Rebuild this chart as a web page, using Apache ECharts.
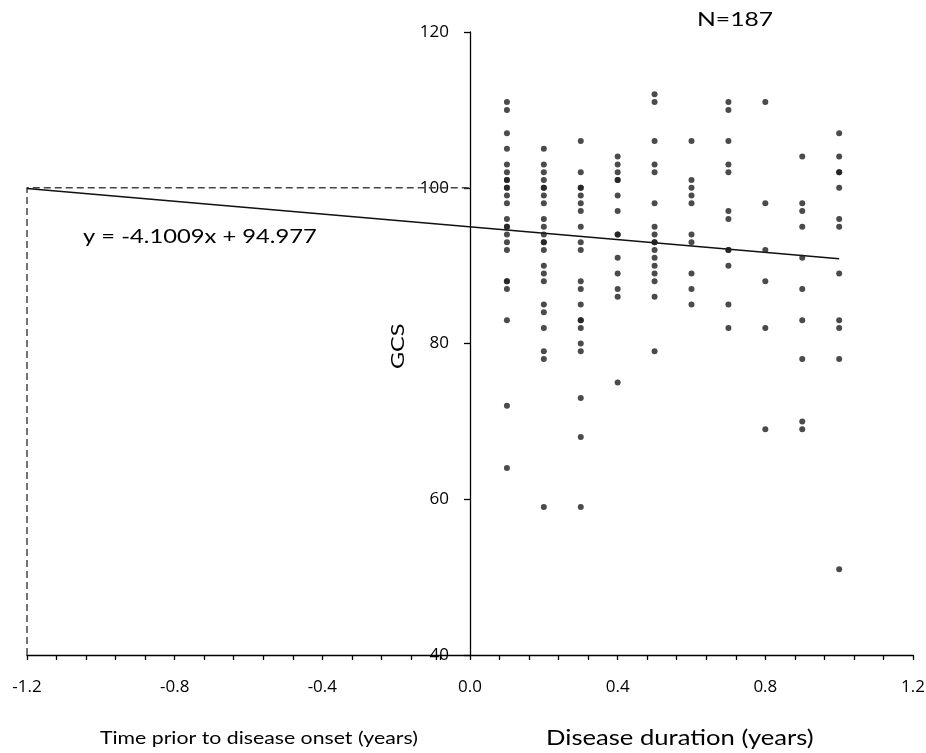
<!DOCTYPE html>
<html>
<head>
<meta charset="utf-8">
<script src="https://cdn.jsdelivr.net/npm/echarts@6/dist/echarts.min.js"></script>
<style>
html,body{margin:0;padding:0;background:#fff;}
#chart{width:926px;height:753px;}
</style>
</head>
<body>
<div id="chart"></div>
<script>
// Data
var durations = [0.1, 0.2, 0.3, 0.4, 0.5, 0.6, 0.7, 0.8, 0.9, 1.0];
var gcsByDuration = [
  [111, 110, 107, 105, 103, 102, 101, 101, 100, 100, 99, 98, 96, 95, 95, 94, 93, 92, 88, 88, 87, 83, 72, 64],
  [105, 103, 102, 101, 100, 100, 99, 98, 96, 95, 94, 93, 93, 92, 90, 89, 88, 85, 84, 82, 79, 78, 59],
  [106, 102, 100, 100, 99, 98, 97, 95, 93, 92, 88, 87, 85, 83, 83, 82, 80, 79, 73, 68, 59],
  [104, 103, 102, 101, 101, 99, 97, 94, 94, 91, 89, 87, 86, 75],
  [112, 111, 106, 103, 102, 98, 95, 94, 93, 93, 92, 91, 90, 89, 88, 86, 79],
  [106, 101, 100, 99, 98, 94, 93, 89, 87, 85],
  [111, 110, 106, 103, 102, 97, 96, 92, 92, 90, 85, 82],
  [111, 98, 92, 88, 82, 69],
  [104, 98, 97, 95, 91, 87, 83, 78, 70, 69],
  [107, 104, 102, 102, 100, 96, 95, 89, 83, 82, 78, 51]
];
var slope = -4.1009;
var intercept = 94.977;
var trendRange = [-1.2, 1.0];
var projection = [[-1.2, 40], [-1.2, 100], [0, 100]];
var xTickLabels = ['-1.2', '-0.8', '-0.4', '0.0', '0.4', '0.8', '1.2'];
var yTickLabels = ['40', '60', '80', '100', '120'];

var points = [];
durations.forEach(function (d, i) {
  gcsByDuration[i].forEach(function (v) { points.push([d, v]); });
});
var trend = trendRange.map(function (x) { return [x, slope * x + intercept]; });

var chart = echarts.init(document.getElementById('chart'));
var font = 'Lato, "Open Sans", sans-serif';
var tickFont = '"Open Sans", Lato, sans-serif';
var gridLeft = 27, gridRight = 13;
var plotW = 926 - gridLeft - gridRight;
var yOffset = -plotW * (0 - (-1.2)) / 2.4; // place y axis at x = 0
chart.setOption({
  animation: false,
  backgroundColor: '#fff',
  grid: { left: gridLeft, right: gridRight, top: 32, bottom: 98, containLabel: false, outerBoundsMode: 'none' },
  xAxis: {
    type: 'value', min: -1.2, max: 1.2, interval: 0.4,
    splitLine: { show: false },
    axisLine: { onZero: false, lineStyle: { color: '#000', width: 1.3 } },
    axisTick: { show: true, inside: false, length: 5, lineStyle: { color: '#000', width: 1.3 } },
    minorTick: { show: true, splitNumber: 5, length: 5, lineStyle: { color: '#000', width: 1.3 } },
    axisLabel: {
      margin: 24, fontSize: 17, color: '#000', fontFamily: tickFont,
      formatter: function (v) {
        var s = v.toFixed(1);
        return xTickLabels.indexOf(s) >= 0 ? s : '';
      }
    }
  },
  yAxis: {
    type: 'value', min: 40, max: 120, interval: 20, position: 'left', offset: yOffset,
    splitLine: { show: false },
    axisLine: { onZero: false, lineStyle: { color: '#000', width: 1.3 } },
    axisTick: { show: true, inside: false, length: 6, lineStyle: { color: '#000', width: 1.3 } },
    axisLabel: {
      margin: 21, fontSize: 17, color: '#000', fontFamily: tickFont,
      formatter: function (v) { var s = String(Math.round(v)); return yTickLabels.indexOf(s) >= 0 ? s : ''; }
    }
  },
  series: [
    {
      type: 'line', data: projection, symbol: 'none', silent: true,
      lineStyle: { color: '#444', width: 1.5, type: [7, 4] }, z: 1
    },
    {
      type: 'line', data: trend, symbol: 'none', silent: true,
      lineStyle: { color: '#111', width: 1.6 }, z: 2
    },
    {
      type: 'scatter', data: points, symbol: 'circle', symbolSize: 6,
      itemStyle: { color: '#1e1e1e' }, z: 3
    }
  ],
  graphic: [
    { type: 'text', x: 697, y: 10, scaleX: 1.3, style: { text: 'N=187', fontSize: 19, fontFamily: font, fill: '#000' } },
    { type: 'text', x: 389, y: 369, scaleX: 1.3, rotation: Math.PI / 2, style: { text: 'GCS', fontSize: 18, fontFamily: font, fill: '#000' } },
    { type: 'text', x: 83, y: 227, scaleX: 1.25, style: { text: 'y = -4.1009x + 94.977', fontSize: 19, fontFamily: font, fill: '#000' } },
    { type: 'text', x: 100, y: 730, scaleX: 1.25, style: { text: 'Time prior to disease onset (years)', fontSize: 17, fontFamily: font, fill: '#000' } },
    { type: 'text', x: 546, y: 728, scaleX: 1.22, style: { text: 'Disease duration (years)', fontSize: 21, fontFamily: font, fill: '#000' } }
  ]
});
</script>
</body>
</html>
